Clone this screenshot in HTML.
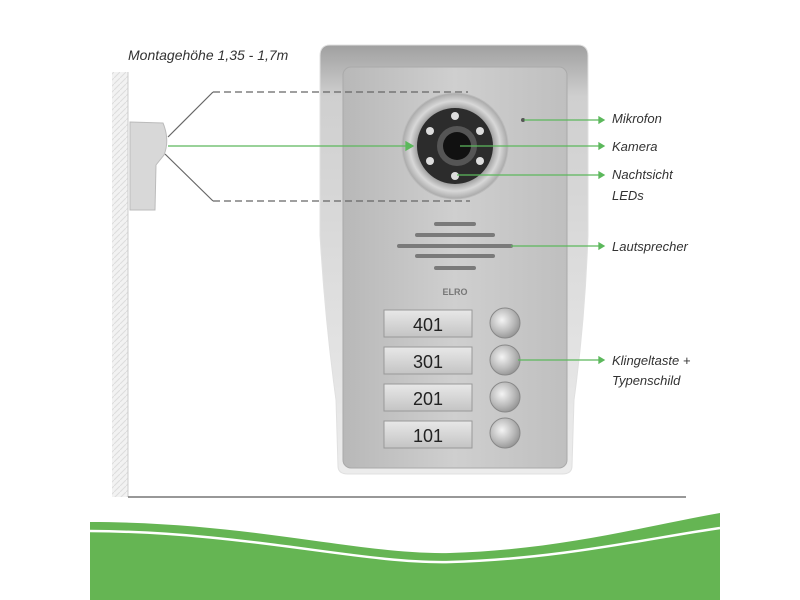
<!DOCTYPE html>
<html><head><meta charset="utf-8"><style>
html,body{margin:0;padding:0;background:#fff;}
svg{display:block;}
text{font-family:"Liberation Sans",sans-serif;}
.lab{font-style:italic;font-size:13px;fill:#333;}
</style></head><body>
<svg width="800" height="600" viewBox="0 0 800 600" xmlns="http://www.w3.org/2000/svg">
<defs>
<linearGradient id="plate" x1="0" x2="1" y1="0" y2="0">
<stop offset="0" stop-color="#b8b8b8"/><stop offset="0.5" stop-color="#cfcfcf"/><stop offset="1" stop-color="#bfbfbf"/>
</linearGradient>
<linearGradient id="house" x1="0" x2="0" y1="0" y2="1">
<stop offset="0" stop-color="#a0a0a0"/><stop offset="0.12" stop-color="#cfcfcf"/><stop offset="1" stop-color="#ececec"/>
</linearGradient>
<radialGradient id="btn" cx="0.4" cy="0.4" r="0.7">
<stop offset="0" stop-color="#f4f4f4"/><stop offset="0.6" stop-color="#b8b8b8"/><stop offset="1" stop-color="#8a8a8a"/>
</radialGradient>
<radialGradient id="ring" cx="0.5" cy="0.5" r="0.5">
<stop offset="0.7" stop-color="#9a9a9a"/><stop offset="0.85" stop-color="#d8d8d8"/><stop offset="1" stop-color="#a8a8a8"/>
</radialGradient>
<linearGradient id="np" x1="0" x2="0" y1="0" y2="1">
<stop offset="0" stop-color="#e8e8e8"/><stop offset="1" stop-color="#c4c4c4"/>
</linearGradient>
<pattern id="hatch" width="6" height="6" patternUnits="userSpaceOnUse"><rect width="6" height="6" fill="#f2f2f2"/><path d="M0 6L6 0" stroke="#ddd" stroke-width="1"/></pattern>
</defs>
<rect x="112" y="72" width="16" height="425" fill="url(#hatch)"/>
<line x1="128" y1="72" x2="128" y2="497" stroke="#ccc"/>
<line x1="128" y1="497" x2="686" y2="497" stroke="#777" stroke-width="1.5"/>
<path d="M130 122 L163 123 Q170 140 164 155 L156 165 L155 210 L130 210 Z" fill="#d8d8d8" stroke="#bbb"/>
<text x="128" y="60" class="lab" style="font-size:14px">Montagehöhe 1,35 - 1,7m</text>
<!-- housing -->
<path d="M330 45 L578 45 Q588 45 588 56 L588 235 Q585 320 574 400 L572 466 Q572 474 562 474 L348 474 Q338 474 338 466 L336 400 Q325 320 320 235 L320 56 Q320 45 330 45 Z" fill="url(#house)" stroke="#e0e0e0"/>
<rect x="343" y="67" width="224" height="401" rx="8" fill="url(#plate)" stroke="#aaa"/>
<g stroke="#666" stroke-width="1.2" fill="none">
<path d="M168 137 L213 92" /><path d="M165 154 L213 201"/>
<line x1="213" y1="92" x2="468" y2="92" stroke-dasharray="7 4"/>
<line x1="213" y1="201" x2="470" y2="201" stroke-dasharray="7 4"/>
</g>
<circle cx="455" cy="146" r="53" fill="url(#ring)" stroke="#bbb"/>
<circle cx="455" cy="146" r="38" fill="#2c2c2c"/>
<circle cx="457" cy="146" r="20" fill="#555"/>
<circle cx="457" cy="146" r="14" fill="#111"/>
<g fill="#ddd"><circle cx="455" cy="116" r="4"/><circle cx="430" cy="131" r="4"/><circle cx="480" cy="131" r="4"/><circle cx="430" cy="161" r="4"/><circle cx="480" cy="161" r="4"/><circle cx="455" cy="176" r="4"/></g>
<circle cx="523" cy="120" r="2" fill="#555"/>
<g stroke="#7a7a7a" stroke-width="4" stroke-linecap="round">
<line x1="436" y1="224" x2="474" y2="224"/><line x1="417" y1="235" x2="493" y2="235"/>
<line x1="399" y1="246" x2="511" y2="246"/><line x1="417" y1="256" x2="493" y2="256"/><line x1="436" y1="268" x2="474" y2="268"/>
</g>
<text x="455" y="295" font-size="9" fill="#777" text-anchor="middle" font-weight="bold">ELRO</text>
<g>
<rect x="384" y="310" width="88" height="27" fill="url(#np)" stroke="#999"/>
<rect x="384" y="347" width="88" height="27" fill="url(#np)" stroke="#999"/>
<rect x="384" y="384" width="88" height="27" fill="url(#np)" stroke="#999"/>
<rect x="384" y="421" width="88" height="27" fill="url(#np)" stroke="#999"/>
</g>
<g font-size="18" fill="#222" text-anchor="middle">
<text x="428" y="331">401</text><text x="428" y="368">301</text><text x="428" y="405">201</text><text x="428" y="442">101</text>
</g>
<g fill="url(#btn)" stroke="#888"><circle cx="505" cy="323" r="15"/><circle cx="505" cy="360" r="15"/><circle cx="505" cy="397" r="15"/><circle cx="505" cy="433" r="15"/></g>
<g stroke="#5cb85c" stroke-width="1.3" fill="#5cb85c">
<line x1="168" y1="146" x2="406" y2="146"/><path d="M406 142 L413 146 L406 150Z"/>
<line x1="524" y1="120" x2="600" y2="120"/><path d="M599 117 L604 120 L599 123Z"/>
<line x1="460" y1="146" x2="600" y2="146"/><path d="M599 143 L604 146 L599 149Z"/>
<line x1="457" y1="175" x2="600" y2="175"/><path d="M599 172 L604 175 L599 178Z"/>
<line x1="511" y1="246" x2="600" y2="246"/><path d="M599 243 L604 246 L599 249Z"/>
<line x1="518" y1="360" x2="600" y2="360"/><path d="M599 357 L604 360 L599 363Z"/>
</g>
<g class="lab">
<text x="612" y="123">Mikrofon</text>
<text x="612" y="151">Kamera</text>
<text x="612" y="179">Nachtsicht</text>
<text x="612" y="200">LEDs</text>
<text x="612" y="251">Lautsprecher</text>
<text x="612" y="365">Klingeltaste +</text>
<text x="612" y="385">Typenschild</text>
</g>
<path d="M90 522 C250 522 360 555 450 553 C560 550 650 525 720 513 L720 600 L90 600 Z" fill="#65b553"/>
<path d="M90 531 C250 532 360 564 450 562 C560 559 650 538 720 528" stroke="#fff" stroke-width="2.5" fill="none"/>
</svg>
</body></html>
